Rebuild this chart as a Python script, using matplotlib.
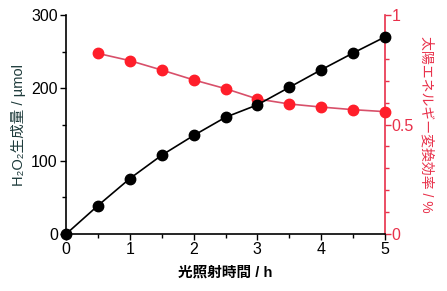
import matplotlib.pyplot as plt
from matplotlib.ticker import MultipleLocator

plt.rcParams['font.family'] = ['Liberation Sans', 'Noto Sans CJK JP', 'DejaVu Sans']

hours = [0, 0.5, 1, 1.5, 2, 2.5, 3, 3.5, 4, 4.5, 5]
h2o2 = [0, 39, 76, 108, 135, 160, 177, 201, 225, 248, 270]
eff_hours = [0.5, 1, 1.5, 2, 2.5, 3, 3.5, 4, 4.5, 5]
efficiency = [0.825, 0.792, 0.749, 0.704, 0.664, 0.617, 0.594, 0.580, 0.568, 0.559]

RED = '#e8304a'
RED_MARK = '#ff1e2a'
RED_LINE = '#d8506a'
LEFT_LABEL = '#1e3b3b'

fig = plt.figure(figsize=(4.47, 2.91), dpi=100)
ax = fig.add_axes([0.148, 0.196, 0.713, 0.752])
ax2 = ax.twinx()

ax2.plot(eff_hours, efficiency, '-', color=RED_LINE, lw=1.2, zorder=2)
ax2.plot(eff_hours, efficiency, 'o', color=RED_MARK, ms=7.5, mec=RED_MARK, clip_on=False, zorder=3)

ax.set_zorder(ax2.get_zorder() + 1)
ax.patch.set_visible(False)
ax.plot(hours, h2o2, '-', color='black', lw=1.2)
ax.plot(hours, h2o2, 'o', color='black', ms=7.5, clip_on=False)

ax.set_xlim(0, 5)
ax.set_ylim(0, 300)
ax2.set_ylim(0, 1)

ax.xaxis.set_major_locator(MultipleLocator(1))
ax.xaxis.set_minor_locator(MultipleLocator(0.5))
ax.yaxis.set_major_locator(MultipleLocator(100))
ax.yaxis.set_minor_locator(MultipleLocator(50))
ax2.yaxis.set_minor_locator(MultipleLocator(0.1))
ax2.set_yticks([0, 0.5, 1])
ax2.set_yticklabels(['0', '0.5', '1'])

for a in (ax, ax2):
    a.spines['top'].set_visible(False)
ax.spines['right'].set_visible(False)
ax2.spines['left'].set_visible(False)
ax2.spines['bottom'].set_visible(False)
ax2.spines['right'].set_color(RED)
ax2.spines['right'].set_linewidth(1.2)
ax.spines['left'].set_linewidth(1.2)
ax.spines['bottom'].set_linewidth(1.2)

ax.tick_params(which='major', direction='out', length=4, width=1, labelsize=11.5, pad=2)
ax.tick_params(which='minor', direction='out', length=3, width=1)
ax2.tick_params(which='both', colors=RED, labelcolor=RED)
ax2.tick_params(which='major', direction='out', length=4, width=1, labelsize=11.5, pad=1)
ax2.tick_params(which='minor', direction='out', length=3, width=1)

ax.set_xlabel('光照射時間 / h', fontsize=10.5, fontweight='bold', labelpad=6)
ax.set_ylabel('H₂O₂生成量 / µmol', fontsize=10.5, color=LEFT_LABEL, labelpad=4)
ax2.set_ylabel('太陽エネルギー変換効率 / %', fontsize=10, color=RED, rotation=270, labelpad=14)

fig.savefig('out.png', dpi=100)
